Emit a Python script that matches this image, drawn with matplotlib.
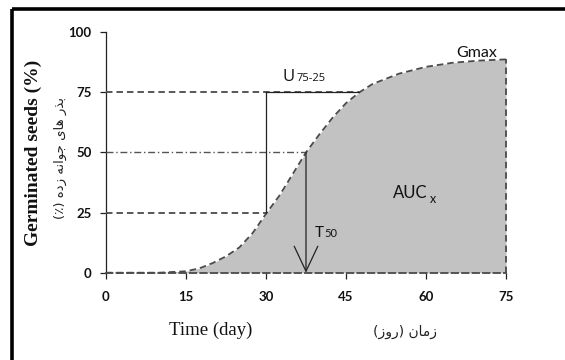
import matplotlib
matplotlib.use("Agg")
import matplotlib.pyplot as plt
from matplotlib.lines import Line2D
from matplotlib import font_manager
from matplotlib.ft2font import FT2Font

# ---------------- data ----------------
days = [0, 10, 15, 17.5, 20, 22.5, 25, 27.5, 30, 32.5, 35, 37.5, 40, 42.5, 45,
        47.5, 50, 55, 60, 65, 70, 75]
germ = [0, 0, 0.6, 1.8, 4, 6.8, 10.5, 16.5, 24.5, 32, 41, 50, 57.5, 64.5, 70.5,
        75, 78.5, 82.8, 85.6, 87.3, 88.2, 88.7]
xticks = [0, 15, 30, 45, 60, 75]
yticks = [0, 25, 50, 75, 100]
t25, t50, t75 = 30, 37.5, 47.5
g25, g50, g75 = 25, 50, 75

# ---------------- Arabic shaping helper ----------------
FORMS = {  # iso, fin, ini, med
    'ا': (0xFE8D, 0xFE8E, None, None),
    'ب': (0xFE8F, 0xFE90, 0xFE91, 0xFE92),
    'ج': (0xFE9D, 0xFE9E, 0xFE9F, 0xFEA0),
    'د': (0xFEA9, 0xFEAA, None, None),
    'ذ': (0xFEAB, 0xFEAC, None, None),
    'ر': (0xFEAD, 0xFEAE, None, None),
    'ز': (0xFEAF, 0xFEB0, None, None),
    'م': (0xFEE1, 0xFEE2, 0xFEE3, 0xFEE4),
    'ن': (0xFEE5, 0xFEE6, 0xFEE7, 0xFEE8),
    'ه': (0xFEE9, 0xFEEA, 0xFEEB, 0xFEEC),
    'و': (0xFEED, 0xFEEE, None, None),
    'ی': (0xFEEF, 0xFEF0, 0xFEF3, 0xFEF4),
}


def shape_rtl(s):
    out = []
    for i, ch in enumerate(s):
        if ch not in FORMS:
            out.append(ch)
            continue
        f = FORMS[ch]
        prev = s[i - 1] if i > 0 else None
        nxt = s[i + 1] if i + 1 < len(s) else None
        join_prev = prev in FORMS and FORMS[prev][2] is not None
        join_next = nxt in FORMS and f[2] is not None
        if join_prev and join_next:
            code = f[3]
        elif join_prev:
            code = f[1]
        elif join_next:
            code = f[2]
        else:
            code = f[0]
        out.append(chr(code))
    vis = ''.join(reversed(out))
    mirror = {'(': ')', ')': '('}
    return ''.join(mirror.get(c, c) for c in vis)


dv_path = font_manager.findfont("DejaVu Sans")
cmap = FT2Font(dv_path).get_charmap()
pct = '٪' if 0x066A in cmap else '%'

fa_ylabel = shape_rtl('بذر های جوانه زده (' + pct + ')')
fa_xlabel = shape_rtl('زمان (روز)')

# ---------------- figure ----------------
W, H = 565, 360
fig = plt.figure(figsize=(W / 100, H / 100), dpi=100)
fig.patch.set_facecolor('white')


def fx(px):
    return px / W


def fy(py):
    return 1 - py / H


ax = fig.add_axes([fx(106), fy(272.7), fx(506) - fx(106), fy(32.2) - fy(272.7)])
ax.set_xlim(0, 75)
ax.set_ylim(0, 100)
ax.set_facecolor('none')

dash = (0, (3.6, 2.2))
gray = '#4a4a4a'

# filled area under curve
ax.fill_between(days, germ, 0, color='#c2c2c2', lw=0, zorder=1)
ax.plot(days, germ, color=gray, lw=1.3, ls=dash, zorder=3, clip_on=False)
ax.plot([days[-1], days[-1]], [0, germ[-1]], color=gray, lw=1.3, ls=dash,
        zorder=3, clip_on=False)

# reference lines
ax.plot([0, t75], [g75, g75], color=gray, lw=1.3, ls=dash, zorder=3)
ax.plot([t25, t75], [g75, g75], color='#222222', lw=0.9, zorder=3)
ax.plot([0, t25], [g25, g25], color=gray, lw=1.3, ls=dash, zorder=3)
ax.plot([0, t50], [g50, g50], color='#555555', lw=1.0, ls=(0, (5, 2, 1, 2)), zorder=3)
ax.plot([t25, t25], [g25, g75], color='#222222', lw=0.9, zorder=3)

# T50 arrow
ax.annotate('', xy=(t50, 0), xytext=(t50, g50),
            arrowprops=dict(arrowstyle='->,head_length=1.8,head_width=0.85',
                            mutation_scale=10, color='#222222', lw=0.9,
                            shrinkA=0, shrinkB=0), zorder=4)

# spines / ticks
for s in ['top', 'right']:
    ax.spines[s].set_visible(False)
ax.spines['left'].set_linewidth(0.9)
ax.spines['left'].set_color('#222222')
ax.spines['bottom'].set_linewidth(1.3)
ax.spines['bottom'].set_color(gray)
ax.spines['bottom'].set_linestyle(dash)
ax.spines['bottom'].set_zorder(3)
ax.set_xticks(xticks)
ax.set_yticks(yticks)
ax.tick_params(axis='both', direction='out', length=4.5, width=0.9,
               color='#222222')
ax.tick_params(axis='x', pad=8.5)
ax.tick_params(axis='y', pad=6)
for lab in ax.get_xticklabels() + ax.get_yticklabels():
    lab.set_fontfamily('Lato')
    lab.set_fontweight('bold')
    lab.set_fontsize(9.5)
    lab.set_color('#111111')

# annotation texts (figure pixel coordinates)
fig.text(fx(283), fy(81), 'U', fontsize=12, family='Open Sans', color='#111111',
         va='baseline', ha='left')
fig.text(fx(297), fy(81), '75-25', fontsize=8, family='Open Sans', color='#111111',
         va='baseline', ha='left')
fig.text(fx(456), fy(57), 'Gmax', fontsize=11.5, family='Lato', color='#111111',
         va='baseline', ha='left')
fig.text(fx(393), fy(198), 'AUC', fontsize=12, family='Lato', color='#111111',
         va='baseline', ha='left')
fig.text(fx(430), fy(203), 'x', fontsize=9, family='Lato', color='#111111',
         va='baseline', ha='left')
fig.text(fx(315), fy(237), 'T', fontsize=11, family='Lato', color='#111111',
         va='baseline', ha='left')
fig.text(fx(324), fy(237), '50', fontsize=8, family='Lato', color='#111111',
         va='baseline', ha='left')

# axis labels
fig.text(fx(33), fy(153), 'Germinated seeds (%)', rotation=90, fontsize=14,
         family='Liberation Serif', fontweight='bold', ha='center', va='center',
         color='#111111')
fig.text(fx(60), fy(158), fa_ylabel, rotation=90, fontsize=9.5,
         family='DejaVu Sans', ha='center', va='center', color='#222222')
fig.text(fx(211), fy(330), 'Time (day)', fontsize=13.5, family='Liberation Serif',
         ha='center', va='center', color='#111111')
fig.text(fx(405), fy(332), fa_xlabel, fontsize=10, family='DejaVu Sans',
         ha='center', va='center', color='#222222')

# outer frame (top and left edges)
fig.add_artist(Line2D([fx(11.5), 1], [fy(9), fy(9)], transform=fig.transFigure,
                      color='black', lw=2.6, solid_capstyle='butt'))
fig.add_artist(Line2D([fx(11.5), fx(11.5)], [fy(9), 0], transform=fig.transFigure,
                      color='black', lw=2.6, solid_capstyle='butt'))

fig.savefig('out.png', dpi=100)
